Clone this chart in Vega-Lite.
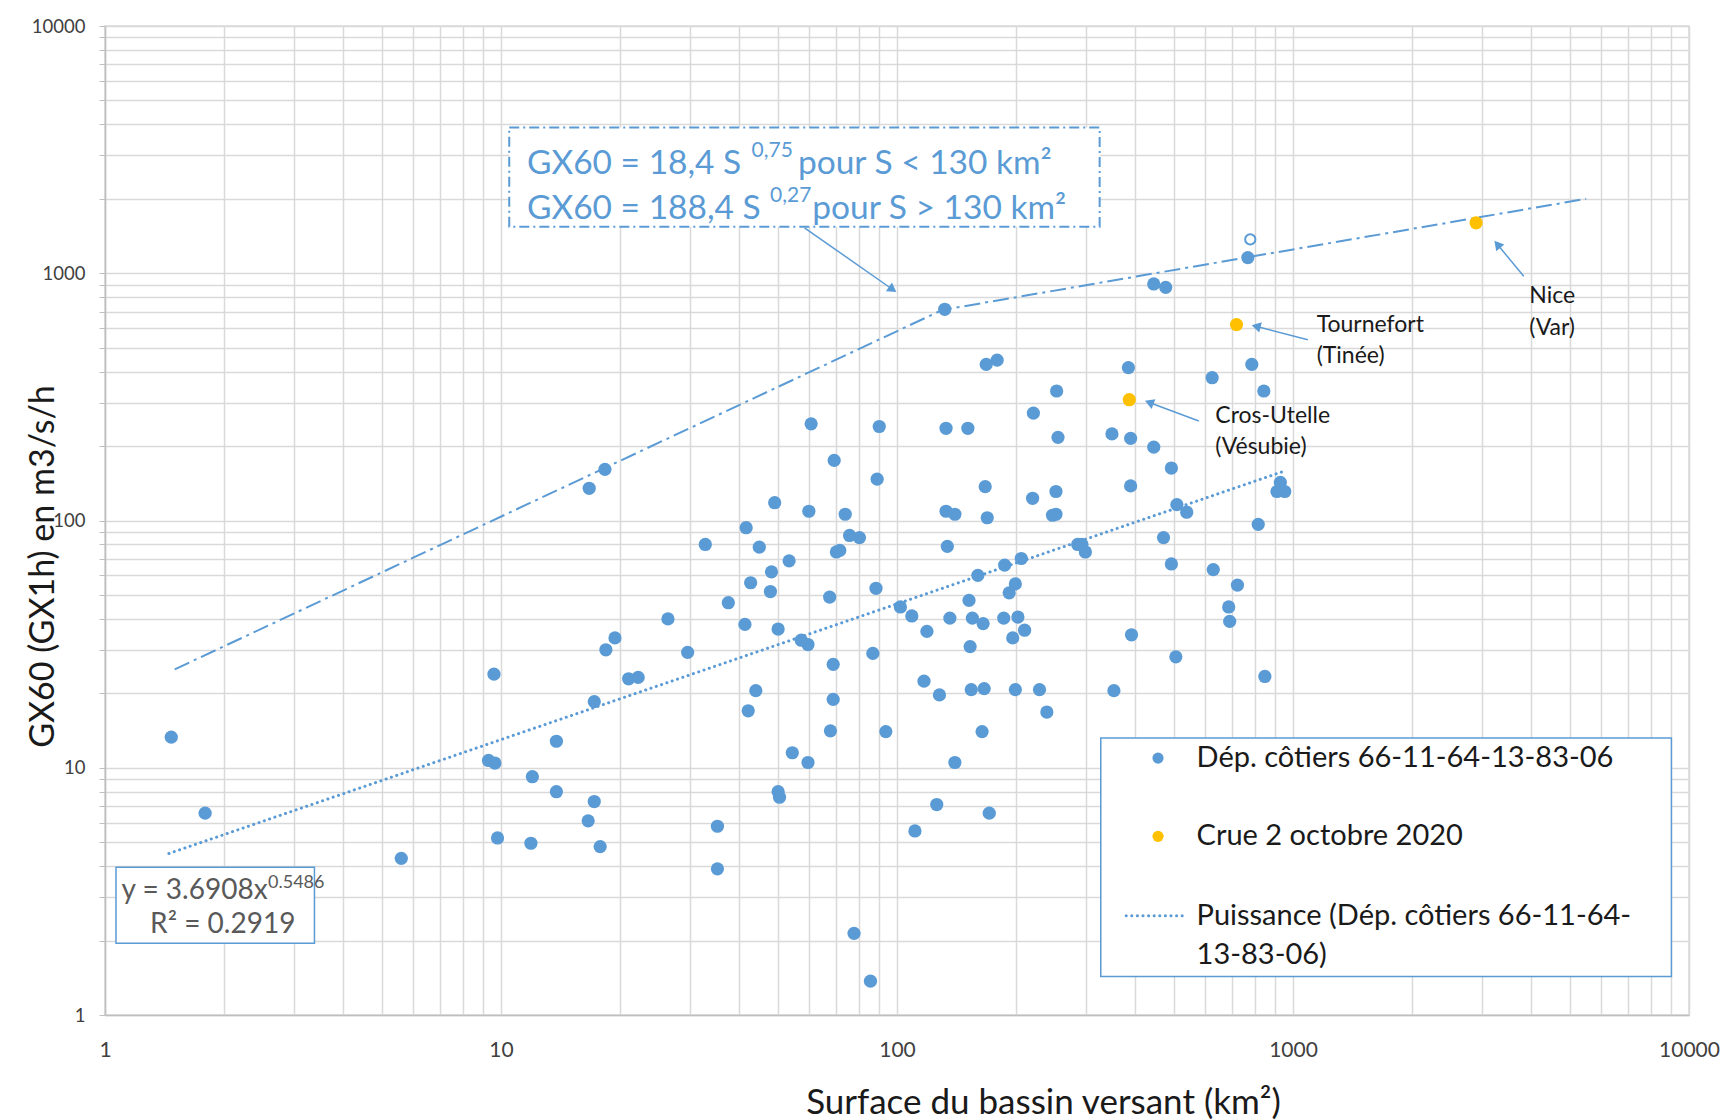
{
  "$schema": "https://vega.github.io/schema/vega-lite/v6.json",
  "width": 1584,
  "height": 989,
  "autosize": {"type": "none"},
  "padding": {"left": 105, "top": 26, "right": 39, "bottom": 105},
  "background": "white",
  "config": {
    "font": "Lato",
    "view": {"stroke": "#D9D9D9", "strokeWidth": 1.5},
    "axis": {"gridColor": "#D9D9D9", "gridWidth": 1.5, "domainColor": "#BFBFBF", "domainWidth": 1.5, "tickColor": "#BFBFBF", "labelColor": "#404040", "titleColor": "#1a1a1a", "titleFontWeight": "normal", "labelOverlap": false, "labelBound": false, "labelFlush": false}
  },
  "datasets": {
    "pts": [
      {"S": 1.47, "G": 13.3, "series": "Dép. côtiers 66-11-64-13-83-06"},
      {"S": 1.79, "G": 6.55, "series": "Dép. côtiers 66-11-64-13-83-06"},
      {"S": 5.6, "G": 4.3, "series": "Dép. côtiers 66-11-64-13-83-06"},
      {"S": 9.6, "G": 23.9, "series": "Dép. côtiers 66-11-64-13-83-06"},
      {"S": 9.3, "G": 10.7, "series": "Dép. côtiers 66-11-64-13-83-06"},
      {"S": 9.65, "G": 10.45, "series": "Dép. côtiers 66-11-64-13-83-06"},
      {"S": 9.8, "G": 5.2, "series": "Dép. côtiers 66-11-64-13-83-06"},
      {"S": 12.0, "G": 9.2, "series": "Dép. côtiers 66-11-64-13-83-06"},
      {"S": 11.9, "G": 4.95, "series": "Dép. côtiers 66-11-64-13-83-06"},
      {"S": 13.8, "G": 12.8, "series": "Dép. côtiers 66-11-64-13-83-06"},
      {"S": 13.8, "G": 8.0, "series": "Dép. côtiers 66-11-64-13-83-06"},
      {"S": 16.7, "G": 135, "series": "Dép. côtiers 66-11-64-13-83-06"},
      {"S": 18.3, "G": 161, "series": "Dép. côtiers 66-11-64-13-83-06"},
      {"S": 16.6, "G": 6.1, "series": "Dép. côtiers 66-11-64-13-83-06"},
      {"S": 17.2, "G": 7.3, "series": "Dép. côtiers 66-11-64-13-83-06"},
      {"S": 17.8, "G": 4.8, "series": "Dép. côtiers 66-11-64-13-83-06"},
      {"S": 17.2, "G": 18.5, "series": "Dép. côtiers 66-11-64-13-83-06"},
      {"S": 18.4, "G": 30, "series": "Dép. côtiers 66-11-64-13-83-06"},
      {"S": 19.4, "G": 33.5, "series": "Dép. côtiers 66-11-64-13-83-06"},
      {"S": 21.0, "G": 22.9, "series": "Dép. côtiers 66-11-64-13-83-06"},
      {"S": 22.2, "G": 23.2, "series": "Dép. côtiers 66-11-64-13-83-06"},
      {"S": 26.4, "G": 40, "series": "Dép. côtiers 66-11-64-13-83-06"},
      {"S": 29.6, "G": 29.3, "series": "Dép. côtiers 66-11-64-13-83-06"},
      {"S": 32.8, "G": 80, "series": "Dép. côtiers 66-11-64-13-83-06"},
      {"S": 35.2, "G": 5.8, "series": "Dép. côtiers 66-11-64-13-83-06"},
      {"S": 35.2, "G": 3.9, "series": "Dép. côtiers 66-11-64-13-83-06"},
      {"S": 37.5, "G": 46.5, "series": "Dép. côtiers 66-11-64-13-83-06"},
      {"S": 41.3, "G": 38, "series": "Dép. côtiers 66-11-64-13-83-06"},
      {"S": 41.6, "G": 93.5, "series": "Dép. côtiers 66-11-64-13-83-06"},
      {"S": 42.7, "G": 56, "series": "Dép. côtiers 66-11-64-13-83-06"},
      {"S": 42.1, "G": 17.0, "series": "Dép. côtiers 66-11-64-13-83-06"},
      {"S": 44.0, "G": 20.5, "series": "Dép. côtiers 66-11-64-13-83-06"},
      {"S": 44.9, "G": 78, "series": "Dép. côtiers 66-11-64-13-83-06"},
      {"S": 48.2, "G": 62, "series": "Dép. côtiers 66-11-64-13-83-06"},
      {"S": 47.9, "G": 51.6, "series": "Dép. côtiers 66-11-64-13-83-06"},
      {"S": 49.1, "G": 118, "series": "Dép. côtiers 66-11-64-13-83-06"},
      {"S": 50.1, "G": 36.4, "series": "Dép. côtiers 66-11-64-13-83-06"},
      {"S": 50.1, "G": 8.0, "series": "Dép. côtiers 66-11-64-13-83-06"},
      {"S": 50.5, "G": 7.6, "series": "Dép. côtiers 66-11-64-13-83-06"},
      {"S": 53.4, "G": 68.7, "series": "Dép. côtiers 66-11-64-13-83-06"},
      {"S": 54.4, "G": 11.5, "series": "Dép. côtiers 66-11-64-13-83-06"},
      {"S": 57.3, "G": 32.8, "series": "Dép. côtiers 66-11-64-13-83-06"},
      {"S": 59.6, "G": 31.5, "series": "Dép. côtiers 66-11-64-13-83-06"},
      {"S": 59.6, "G": 10.5, "series": "Dép. côtiers 66-11-64-13-83-06"},
      {"S": 59.9, "G": 109, "series": "Dép. côtiers 66-11-64-13-83-06"},
      {"S": 60.7, "G": 246, "series": "Dép. côtiers 66-11-64-13-83-06"},
      {"S": 67.6, "G": 49, "series": "Dép. côtiers 66-11-64-13-83-06"},
      {"S": 67.9, "G": 14.1, "series": "Dép. côtiers 66-11-64-13-83-06"},
      {"S": 69, "G": 26.2, "series": "Dép. côtiers 66-11-64-13-83-06"},
      {"S": 69, "G": 18.9, "series": "Dép. côtiers 66-11-64-13-83-06"},
      {"S": 69.4, "G": 175, "series": "Dép. côtiers 66-11-64-13-83-06"},
      {"S": 70.3, "G": 74.6, "series": "Dép. côtiers 66-11-64-13-83-06"},
      {"S": 71.7, "G": 75.7, "series": "Dép. côtiers 66-11-64-13-83-06"},
      {"S": 74, "G": 106, "series": "Dép. côtiers 66-11-64-13-83-06"},
      {"S": 75.9, "G": 87, "series": "Dép. côtiers 66-11-64-13-83-06"},
      {"S": 80.4, "G": 85.3, "series": "Dép. côtiers 66-11-64-13-83-06"},
      {"S": 77.9, "G": 2.14, "series": "Dép. côtiers 66-11-64-13-83-06"},
      {"S": 85.7, "G": 1.37, "series": "Dép. côtiers 66-11-64-13-83-06"},
      {"S": 86.9, "G": 29, "series": "Dép. côtiers 66-11-64-13-83-06"},
      {"S": 88.5, "G": 53.2, "series": "Dép. côtiers 66-11-64-13-83-06"},
      {"S": 89.1, "G": 147, "series": "Dép. côtiers 66-11-64-13-83-06"},
      {"S": 90.2, "G": 240, "series": "Dép. côtiers 66-11-64-13-83-06"},
      {"S": 93.7, "G": 14, "series": "Dép. côtiers 66-11-64-13-83-06"},
      {"S": 102, "G": 44.7, "series": "Dép. côtiers 66-11-64-13-83-06"},
      {"S": 109, "G": 41.1, "series": "Dép. côtiers 66-11-64-13-83-06"},
      {"S": 111, "G": 5.55, "series": "Dép. côtiers 66-11-64-13-83-06"},
      {"S": 117, "G": 22.4, "series": "Dép. côtiers 66-11-64-13-83-06"},
      {"S": 119, "G": 35.6, "series": "Dép. côtiers 66-11-64-13-83-06"},
      {"S": 126, "G": 7.1, "series": "Dép. côtiers 66-11-64-13-83-06"},
      {"S": 128, "G": 19.7, "series": "Dép. côtiers 66-11-64-13-83-06"},
      {"S": 132, "G": 715, "series": "Dép. côtiers 66-11-64-13-83-06"},
      {"S": 133, "G": 236, "series": "Dép. côtiers 66-11-64-13-83-06"},
      {"S": 133, "G": 109, "series": "Dép. côtiers 66-11-64-13-83-06"},
      {"S": 134, "G": 78.6, "series": "Dép. côtiers 66-11-64-13-83-06"},
      {"S": 136, "G": 40.3, "series": "Dép. côtiers 66-11-64-13-83-06"},
      {"S": 140, "G": 106, "series": "Dép. côtiers 66-11-64-13-83-06"},
      {"S": 140, "G": 10.5, "series": "Dép. côtiers 66-11-64-13-83-06"},
      {"S": 151, "G": 236, "series": "Dép. côtiers 66-11-64-13-83-06"},
      {"S": 152, "G": 47.5, "series": "Dép. côtiers 66-11-64-13-83-06"},
      {"S": 153, "G": 30.9, "series": "Dép. côtiers 66-11-64-13-83-06"},
      {"S": 154, "G": 20.7, "series": "Dép. côtiers 66-11-64-13-83-06"},
      {"S": 155, "G": 40.3, "series": "Dép. côtiers 66-11-64-13-83-06"},
      {"S": 160, "G": 60, "series": "Dép. côtiers 66-11-64-13-83-06"},
      {"S": 164, "G": 14, "series": "Dép. côtiers 66-11-64-13-83-06"},
      {"S": 165, "G": 38.3, "series": "Dép. côtiers 66-11-64-13-83-06"},
      {"S": 166, "G": 20.9, "series": "Dép. côtiers 66-11-64-13-83-06"},
      {"S": 167, "G": 137, "series": "Dép. côtiers 66-11-64-13-83-06"},
      {"S": 168, "G": 428, "series": "Dép. côtiers 66-11-64-13-83-06"},
      {"S": 169, "G": 102.6, "series": "Dép. côtiers 66-11-64-13-83-06"},
      {"S": 171, "G": 6.55, "series": "Dép. côtiers 66-11-64-13-83-06"},
      {"S": 179, "G": 445, "series": "Dép. côtiers 66-11-64-13-83-06"},
      {"S": 186, "G": 40.3, "series": "Dép. côtiers 66-11-64-13-83-06"},
      {"S": 187, "G": 66, "series": "Dép. côtiers 66-11-64-13-83-06"},
      {"S": 192, "G": 51, "series": "Dép. côtiers 66-11-64-13-83-06"},
      {"S": 196, "G": 33.5, "series": "Dép. côtiers 66-11-64-13-83-06"},
      {"S": 199, "G": 55.4, "series": "Dép. côtiers 66-11-64-13-83-06"},
      {"S": 199, "G": 20.7, "series": "Dép. côtiers 66-11-64-13-83-06"},
      {"S": 202, "G": 40.7, "series": "Dép. côtiers 66-11-64-13-83-06"},
      {"S": 206, "G": 70.2, "series": "Dép. côtiers 66-11-64-13-83-06"},
      {"S": 210, "G": 36, "series": "Dép. côtiers 66-11-64-13-83-06"},
      {"S": 220, "G": 123, "series": "Dép. côtiers 66-11-64-13-83-06"},
      {"S": 221, "G": 272, "series": "Dép. côtiers 66-11-64-13-83-06"},
      {"S": 229, "G": 20.7, "series": "Dép. côtiers 66-11-64-13-83-06"},
      {"S": 239, "G": 16.8, "series": "Dép. côtiers 66-11-64-13-83-06"},
      {"S": 247, "G": 105, "series": "Dép. côtiers 66-11-64-13-83-06"},
      {"S": 252, "G": 106, "series": "Dép. côtiers 66-11-64-13-83-06"},
      {"S": 252, "G": 131, "series": "Dép. côtiers 66-11-64-13-83-06"},
      {"S": 253, "G": 334, "series": "Dép. côtiers 66-11-64-13-83-06"},
      {"S": 255, "G": 217, "series": "Dép. côtiers 66-11-64-13-83-06"},
      {"S": 286, "G": 80, "series": "Dép. côtiers 66-11-64-13-83-06"},
      {"S": 293, "G": 80, "series": "Dép. côtiers 66-11-64-13-83-06"},
      {"S": 299, "G": 74.6, "series": "Dép. côtiers 66-11-64-13-83-06"},
      {"S": 349, "G": 224, "series": "Dép. côtiers 66-11-64-13-83-06"},
      {"S": 353, "G": 20.5, "series": "Dép. côtiers 66-11-64-13-83-06"},
      {"S": 384, "G": 415, "series": "Dép. côtiers 66-11-64-13-83-06"},
      {"S": 389, "G": 215, "series": "Dép. côtiers 66-11-64-13-83-06"},
      {"S": 389, "G": 138, "series": "Dép. côtiers 66-11-64-13-83-06"},
      {"S": 391, "G": 34.5, "series": "Dép. côtiers 66-11-64-13-83-06"},
      {"S": 445, "G": 198, "series": "Dép. côtiers 66-11-64-13-83-06"},
      {"S": 445, "G": 905, "series": "Dép. côtiers 66-11-64-13-83-06"},
      {"S": 477, "G": 877, "series": "Dép. côtiers 66-11-64-13-83-06"},
      {"S": 471, "G": 85.3, "series": "Dép. côtiers 66-11-64-13-83-06"},
      {"S": 493, "G": 163, "series": "Dép. côtiers 66-11-64-13-83-06"},
      {"S": 493, "G": 66.7, "series": "Dép. côtiers 66-11-64-13-83-06"},
      {"S": 506, "G": 28.1, "series": "Dép. côtiers 66-11-64-13-83-06"},
      {"S": 509, "G": 116, "series": "Dép. côtiers 66-11-64-13-83-06"},
      {"S": 539, "G": 108, "series": "Dép. côtiers 66-11-64-13-83-06"},
      {"S": 625, "G": 378, "series": "Dép. côtiers 66-11-64-13-83-06"},
      {"S": 629, "G": 63.3, "series": "Dép. côtiers 66-11-64-13-83-06"},
      {"S": 688, "G": 44.7, "series": "Dép. côtiers 66-11-64-13-83-06"},
      {"S": 692, "G": 39.1, "series": "Dép. côtiers 66-11-64-13-83-06"},
      {"S": 724, "G": 54.8, "series": "Dép. côtiers 66-11-64-13-83-06"},
      {"S": 769, "G": 1157, "series": "Dép. côtiers 66-11-64-13-83-06"},
      {"S": 787, "G": 428, "series": "Dép. côtiers 66-11-64-13-83-06"},
      {"S": 817, "G": 96.5, "series": "Dép. côtiers 66-11-64-13-83-06"},
      {"S": 844, "G": 334, "series": "Dép. côtiers 66-11-64-13-83-06"},
      {"S": 849, "G": 23.4, "series": "Dép. côtiers 66-11-64-13-83-06"},
      {"S": 911, "G": 131, "series": "Dép. côtiers 66-11-64-13-83-06"},
      {"S": 929, "G": 142.6, "series": "Dép. côtiers 66-11-64-13-83-06"},
      {"S": 953, "G": 131, "series": "Dép. côtiers 66-11-64-13-83-06"},
      {"S": 386, "G": 308, "series": "Crue 2 octobre 2020"},
      {"S": 720, "G": 620, "series": "Crue 2 octobre 2020"},
      {"S": 2900, "G": 1600, "series": "Crue 2 octobre 2020"}
    ],
    "open": [{"S": 780, "G": 1370}],
    "envelope": [{"S": 1.5, "G": 25}, {"S": 130, "G": 710}, {"S": 5500, "G": 2000}],
    "trend": [{"S": 1.45, "G": 4.5}, {"S": 935, "G": 157}],
    "boxes": [
      {"name": "reg", "S": 1.066, "G": 3.96, "S2": 3.38, "G2": 1.95},
      {"name": "legend", "S": 327, "G": 13.2, "S2": 9027, "G2": 1.43}
    ],
    "gxbox": [{"S": 10.49, "G": 3888, "S2": 324.9, "G2": 1543}],
    "arrows": [
      {"name": "box", "S": 58.4, "G": 1527, "S2": 97.5, "G2": 859.6},
      {"name": "tour", "S": 1090, "G": 538.6, "S2": 807, "G2": 610},
      {"name": "cros", "S": 578.3, "G": 252.5, "S2": 433.5, "G2": 300.3},
      {"name": "nice", "S": 3826, "G": 972, "S2": 3281, "G2": 1309}
    ],
    "heads": [
      {"name": "box", "S": 97.5, "G": 859.6},
      {"name": "tour", "S": 807, "G": 610},
      {"name": "cros", "S": 433.5, "G": 300.3},
      {"name": "nice", "S": 3281, "G": 1309}
    ],
    "labels": [
      {"S": 1147.6, "G": 618.7, "t": "Tournefort"},
      {"S": 1147.6, "G": 464, "t": "(Tinée)"},
      {"S": 636.7, "G": 263.9, "t": "Cros-Utelle"},
      {"S": 636.7, "G": 197.9, "t": "(Vésubie)"},
      {"S": 3952, "G": 808.1, "t": "Nice"},
      {"S": 3952, "G": 600.2, "t": "(Var)"}
    ],
    "gxmain": [
      {"S": 11.63, "G": 2526, "t": "GX60 = 18,4 S"},
      {"S": 56.2, "G": 2526, "t": "pour S < 130 km²"},
      {"S": 11.63, "G": 1658, "t": "GX60 = 188,4 S"},
      {"S": 61.1, "G": 1658, "t": "pour S > 130 km²"}
    ],
    "gxsup": [
      {"S": 42.94, "G": 2946, "t": "0,75"},
      {"S": 47.8, "G": 1934, "t": "0,27"}
    ],
    "regmain": [
      {"S": 1.101, "G": 2.94, "t": "y = 3.6908x"},
      {"S": 1.30, "G": 2.14, "t": "R² = 0.2919"}
    ],
    "regsup": [{"S": 2.58, "G": 3.257, "t": "0.5486"}],
    "legdots": [
      {"S": 456.2, "G": 10.94, "series": "Dép. côtiers 66-11-64-13-83-06"},
      {"S": 456.2, "G": 5.28, "series": "Crue 2 octobre 2020"}
    ],
    "legline": [{"S": 379, "G": 2.52}, {"S": 539, "G": 2.52}],
    "legtext": [
      {"S": 570.9, "G": 10.94, "t": "Dép. côtiers 66-11-64-13-83-06"},
      {"S": 570.9, "G": 5.28, "t": "Crue 2 octobre 2020"},
      {"S": 570.9, "G": 2.52, "t": "Puissance (Dép. côtiers 66-11-64-"},
      {"S": 570.9, "G": 1.741, "t": "13-83-06)"}
    ]
  },
  "encoding": {
    "x": {
      "field": "S", "type": "quantitative",
      "scale": {"type": "log", "domain": [1, 10000]},
      "axis": {
        "title": "Surface du bassin versant (km²)",
        "values": [1,2,3,4,5,6,7,8,9,10,20,30,40,50,60,70,80,90,100,200,300,400,500,600,700,800,900,1000,2000,3000,4000,5000,6000,7000,8000,9000,10000],
        "format": "d",
        "labelExpr": "indexof([1,10,100,1000,10000], datum.value) >= 0 ? datum.label : ''",
        "ticks": false,
        "labelFontSize": 21,
        "labelPadding": 24,
        "titleFontSize": 35,
        "titleX": 938,
        "titleY": 98,
        "titleBaseline": "alphabetic",
        "titleAlign": "center"
      }
    },
    "y": {
      "field": "G", "type": "quantitative",
      "scale": {"type": "log", "domain": [1, 10000]},
      "axis": {
        "title": "GX60 (GX1h) en m3/s/h",
        "values": [1,2,3,4,5,6,7,8,9,10,20,30,40,50,60,70,80,90,100,200,300,400,500,600,700,800,900,1000,2000,3000,4000,5000,6000,7000,8000,9000,10000],
        "format": "d",
        "labelExpr": "indexof([1,10,100,1000,10000], datum.value) >= 0 ? datum.label : ''",
        "tickSize": 6,
        "labelFontSize": 18.5,
        "labelPadding": 14,
        "titleFontSize": 34,
        "titleAngle": -90,
        "titleX": -52,
        "titleY": 540,
        "titleBaseline": "alphabetic",
        "titleAlign": "center"
      }
    }
  },
  "layer": [
    {"data": {"name": "envelope"}, "mark": {"type": "line", "stroke": "#5B9BD5", "strokeWidth": 2, "strokeDash": [16, 5, 3, 5]}, "encoding": {}},
    {"data": {"name": "trend"}, "mark": {"type": "line", "stroke": "#5B9BD5", "strokeWidth": 3, "strokeDash": [0.1, 5.5], "strokeCap": "round"}, "encoding": {}},
    {"data": {"name": "pts"}, "mark": {"type": "circle", "size": 175, "opacity": 1},
     "encoding": {"color": {"field": "series", "type": "nominal", "scale": {"domain": ["Dép. côtiers 66-11-64-13-83-06", "Crue 2 octobre 2020"], "range": ["#5B9BD5", "#FFC000"]}, "legend": null}}},
    {"data": {"name": "open"}, "mark": {"type": "circle", "size": 105, "filled": true, "fill": "white", "stroke": "#5B9BD5", "strokeWidth": 2, "opacity": 1}},
    {"data": {"name": "boxes"}, "mark": {"type": "rect", "fill": "white", "stroke": "#5B9BD5", "strokeWidth": 1.5},
     "encoding": {"x2": {"field": "S2"}, "y2": {"field": "G2"}}},
    {"data": {"name": "gxbox"}, "mark": {"type": "rect", "fill": "white", "stroke": "#5B9BD5", "strokeWidth": 2, "strokeDash": [10, 4, 2, 4]},
     "encoding": {"x2": {"field": "S2"}, "y2": {"field": "G2"}}},
    {"data": {"name": "arrows"}, "mark": {"type": "rule", "stroke": "#5B9BD5", "strokeWidth": 1.5},
     "encoding": {"x2": {"field": "S2"}, "y2": {"field": "G2"}}},
    {"data": {"name": "heads"}, "transform": [{"filter": "datum.name == 'box'"}], "mark": {"type": "point", "shape": "triangle-up", "filled": true, "fill": "#5B9BD5", "stroke": null, "size": 110, "opacity": 1, "angle": 125}},
    {"data": {"name": "heads"}, "transform": [{"filter": "datum.name == 'tour'"}], "mark": {"type": "point", "shape": "triangle-up", "filled": true, "fill": "#5B9BD5", "stroke": null, "size": 110, "opacity": 1, "angle": 284}},
    {"data": {"name": "heads"}, "transform": [{"filter": "datum.name == 'cros'"}], "mark": {"type": "point", "shape": "triangle-up", "filled": true, "fill": "#5B9BD5", "stroke": null, "size": 110, "opacity": 1, "angle": 291}},
    {"data": {"name": "heads"}, "transform": [{"filter": "datum.name == 'nice'"}], "mark": {"type": "point", "shape": "triangle-up", "filled": true, "fill": "#5B9BD5", "stroke": null, "size": 110, "opacity": 1, "angle": 320}},
    {"data": {"name": "labels"}, "mark": {"type": "text", "align": "left", "baseline": "middle", "fontSize": 23, "color": "#1a1a1a"}, "encoding": {"text": {"field": "t"}}},
    {"data": {"name": "gxmain"}, "mark": {"type": "text", "align": "left", "baseline": "alphabetic", "fontSize": 33.5, "color": "#5B9BD5"}, "encoding": {"text": {"field": "t"}}},
    {"data": {"name": "gxsup"}, "mark": {"type": "text", "align": "left", "baseline": "alphabetic", "fontSize": 21, "color": "#5B9BD5"}, "encoding": {"text": {"field": "t"}}},
    {"data": {"name": "regmain"}, "mark": {"type": "text", "align": "left", "baseline": "alphabetic", "fontSize": 28, "color": "#595959"}, "encoding": {"text": {"field": "t"}}},
    {"data": {"name": "regsup"}, "mark": {"type": "text", "align": "left", "baseline": "alphabetic", "fontSize": 18, "color": "#595959"}, "encoding": {"text": {"field": "t"}}},
    {"data": {"name": "legline"}, "mark": {"type": "line", "stroke": "#5B9BD5", "strokeWidth": 3, "strokeDash": [0.1, 5.5], "strokeCap": "round"}, "encoding": {}},
    {"data": {"name": "legdots"}, "mark": {"type": "circle", "size": 125, "opacity": 1},
     "encoding": {"color": {"field": "series", "type": "nominal", "legend": null}}},
    {"data": {"name": "legtext"}, "mark": {"type": "text", "align": "left", "baseline": "middle", "fontSize": 29, "color": "#1a1a1a"}, "encoding": {"text": {"field": "t"}}}
  ]
}
